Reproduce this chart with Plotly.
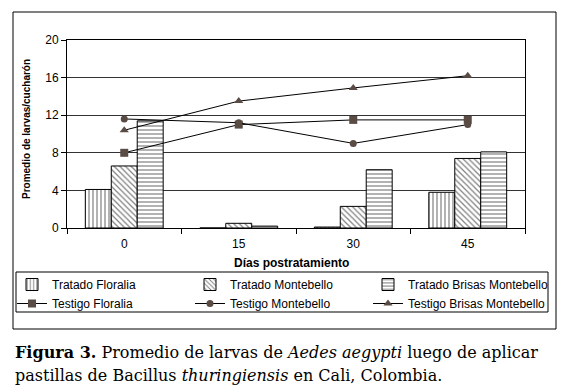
import plotly.graph_objects as go

days = ["0", "15", "30", "45"]
tratado_floralia = [4.1, 0.0, 0.1, 3.8]
tratado_montebello = [6.6, 0.5, 2.3, 7.4]
tratado_brisas = [11.4, 0.2, 6.2, 8.1]
testigo_floralia = [8.0, 11.0, 11.5, 11.5]
testigo_montebello = [11.6, 11.2, 9.0, 11.0]
testigo_brisas = [10.4, 13.5, 14.9, 16.2]
y_ticks = [0, 4, 8, 12, 16, 20]

FONT = "Liberation Sans, Arial, sans-serif"
MK = "#5b4b45"

fig = go.Figure()

for name, vals, shape, lg in [
    ("Tratado Floralia", tratado_floralia, "|", "legend"),
    ("Tratado Montebello", tratado_montebello, "\\", "legend2"),
    ("Tratado Brisas Montebello", tratado_brisas, "-", "legend3"),
]:
    fig.add_trace(go.Bar(
        x=days, y=vals, name=name, legend=lg,
        marker=dict(color="white", line=dict(color="black", width=1),
                    pattern=dict(shape=shape, fgcolor="black", bgcolor="white",
                                 size=4, solidity=0.3)),
    ))

for name, vals, sym, sz, lg in [
    ("Testigo Floralia", testigo_floralia, "square", 8, "legend"),
    ("Testigo Montebello", testigo_montebello, "circle", 7, "legend2"),
    ("Testigo Brisas Montebello", testigo_brisas, "triangle-up", 8, "legend3"),
]:
    fig.add_trace(go.Scatter(
        x=days, y=vals, name=name, mode="lines+markers", legend=lg,
        line=dict(color="black", width=1),
        marker=dict(symbol=sym, size=sz, color=MK, line=dict(width=0)),
    ))

# page body has an 8px margin: figure is drawn 8px right/down
OFF = 8
W, H = 574 - OFF, 392 - OFF
L, R, T, B = 67 - OFF, 525 - OFF, 40 - OFF, 228 - OFF
pw, ph = R - L, B - T

def px(x):
    return (x - OFF - L) / pw

def py(y):
    return (B - (y - OFF)) / ph

def legend_at(xpix):
    return dict(
        orientation="v", x=px(xpix), y=py(270), xanchor="left", yanchor="top",
        borderwidth=0, bgcolor="rgba(0,0,0,0)",
        font=dict(family=FONT, size=12, color="black"),
        itemwidth=30, tracegroupgap=0, traceorder="normal",
    )

fig.update_layout(
    width=W, height=H,
    margin=dict(l=L, r=W - R, t=T, b=H - B, autoexpand=False),
    paper_bgcolor="white", plot_bgcolor="white",
    barmode="group", bargap=0.32, bargroupgap=0,
    font=dict(family=FONT, size=12, color="black"),
    showlegend=True,
    legend=legend_at(12),
    legend2=legend_at(190),
    legend3=legend_at(368),
    xaxis=dict(
        type="category", showline=True, linecolor="black", linewidth=1,
        mirror=True, ticks="outside", ticklen=5, tickcolor="black",
        tickson="boundaries", showgrid=False, ticklabelstandoff=5,
        tickfont=dict(family=FONT, size=12, color="black"),
    ),
    yaxis=dict(
        range=[0, 20], tickvals=y_ticks, showline=True, linecolor="black",
        linewidth=1, mirror=True, ticks="outside", ticklen=5, tickcolor="black",
        showgrid=True, gridcolor="#333333", gridwidth=1, zeroline=False,
        tickfont=dict(family=FONT, size=12, color="black"),
    ),
    shapes=[
        dict(type="rect", xref="paper", yref="paper",
             x0=px(13), x1=px(556), y0=py(329), y1=py(12),
             line=dict(color="black", width=1), layer="below"),
        dict(type="rect", xref="paper", yref="paper",
             x0=px(16), x1=px(548), y0=py(312), y1=py(272),
             line=dict(color="black", width=1), layer="below"),
    ],
    annotations=[
        dict(text="<b>Promedio de larvas/cucharón</b>", xref="paper", yref="paper",
             x=px(26), y=py(129), xanchor="center", yanchor="middle",
             textangle=-90, showarrow=False,
             font=dict(family=FONT, size=10, color="black")),
        dict(text="<b>Días postratamiento</b>", xref="paper", yref="paper",
             x=px(291), y=py(263), xanchor="center", yanchor="middle",
             showarrow=False,
             font=dict(family=FONT, size=12, color="black")),
        dict(text="<b>Figura 3.</b> Promedio de larvas de <i>Aedes aegypti</i> luego de aplicar",
             xref="paper", yref="paper", x=px(13), y=py(352), xanchor="left",
             yanchor="middle", showarrow=False,
             font=dict(family="DejaVu Serif, serif", size=16, color="black")),
        dict(text="pastillas de Bacillus <i>thuringiensis</i> en Cali, Colombia.",
             xref="paper", yref="paper", x=px(13), y=py(375), xanchor="left",
             yanchor="middle", showarrow=False,
             font=dict(family="DejaVu Serif, serif", size=16, color="black")),
    ],
)

fig.write_html("out.html")
